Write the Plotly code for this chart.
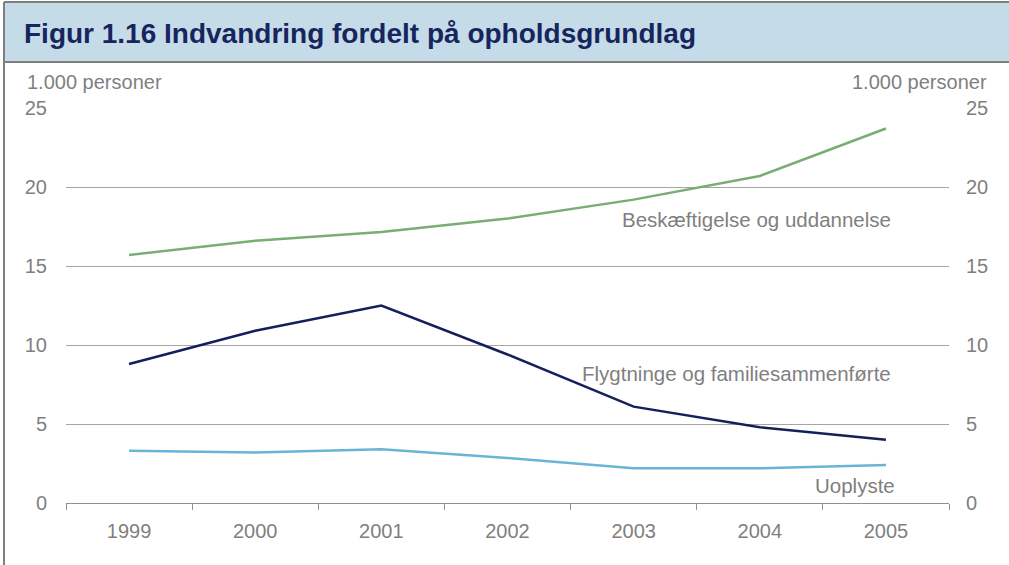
import plotly.graph_objects as go

years = ["1999", "2000", "2001", "2002", "2003", "2004", "2005"]
beskaeftigelse = [15.7, 16.6, 17.15, 18.0, 19.2, 20.7, 23.7]
flygtninge = [8.8, 10.9, 12.5, 9.4, 6.1, 4.8, 4.0]
uoplyste = [3.3, 3.2, 3.4, 2.85, 2.2, 2.2, 2.4]
yticks = [0, 5, 10, 15, 20, 25]

W, H = 1009, 565
L, R, T, B = 66, 949, 108, 503

def px(x):
    return (x - L) / (R - L)

def py(y):
    return (B - y) / (B - T)

gray = "#7f7f7f"
font = "Liberation Sans, Arial, sans-serif"
fs = 20
fa = 20.5

fig = go.Figure()
fig.add_trace(go.Scatter(x=years, y=beskaeftigelse, mode="lines",
                         line=dict(color="#79ae72", width=2.5), showlegend=False))
fig.add_trace(go.Scatter(x=years, y=flygtninge, mode="lines",
                         line=dict(color="#14205c", width=2.5), showlegend=False))
fig.add_trace(go.Scatter(x=years, y=uoplyste, mode="lines",
                         line=dict(color="#6ab4d6", width=2.5), showlegend=False))
# invisible trace for right axis
fig.add_trace(go.Scatter(x=years, y=uoplyste, yaxis="y2", mode="lines",
                         line=dict(width=0), opacity=0, showlegend=False, hoverinfo="skip"))

fig.update_layout(
    width=W, height=H,
    margin=dict(l=L, r=W - R, t=T, b=H - B, autoexpand=False),
    paper_bgcolor="white", plot_bgcolor="white",
    font=dict(family=font, color=gray, size=fs),
    xaxis=dict(type="category", range=[-0.5, 6.5], showgrid=False, ticks="outside",
               tickson="boundaries", ticklen=6, tickcolor="#909090", showline=True,
               linecolor="#909090", linewidth=1, ticklabelstandoff=10,
               tickfont=dict(size=fs, color=gray), zeroline=False, automargin=False),
    yaxis=dict(range=[0, 25], tickvals=yticks, showgrid=True, gridcolor="#a6a6a6",
               gridwidth=1, zeroline=False, showline=False, ticks="",
               ticklabelstandoff=18, tickfont=dict(size=fs, color=gray), automargin=False),
    yaxis2=dict(range=[0, 25], tickvals=yticks, overlaying="y", side="right",
                showgrid=False, zeroline=False, showline=False, ticks="",
                ticklabelstandoff=16, tickfont=dict(size=fs, color=gray), automargin=False),
    shapes=[
        dict(type="rect", xref="paper", yref="paper", x0=px(4), x1=px(1009), y0=py(62), y1=py(2),
             fillcolor="#c5dbe7", line=dict(width=0), layer="below"),
        dict(type="line", xref="paper", yref="paper", x0=px(4), x1=px(1009), y0=py(62), y1=py(62),
             line=dict(color="#7f7f7f", width=2)),
        dict(type="line", xref="paper", yref="paper", x0=px(4), x1=px(1009), y0=py(2), y1=py(2),
             line=dict(color="#7f7f7f", width=2)),
        dict(type="line", xref="paper", yref="paper", x0=px(4), x1=px(4), y0=py(565), y1=py(2),
             line=dict(color="#7f7f7f", width=2)),
    ],
    annotations=[
        dict(text="<b>Figur 1.16 Indvandring fordelt på opholdsgrundlag</b>", xref="paper", yref="paper",
             x=px(22), y=py(34), xanchor="left", yanchor="middle", showarrow=False,
             font=dict(size=28, color="#17255e", family=font)),
        dict(text="1.000 personer", xref="paper", yref="paper", x=px(25), y=py(82),
             xanchor="left", yanchor="middle", showarrow=False, font=dict(size=fs, color=gray)),
        dict(text="1.000 personer", xref="paper", yref="paper", x=px(989), y=py(82),
             xanchor="right", yanchor="middle", showarrow=False, font=dict(size=fs, color=gray)),
        dict(text="Beskæftigelse og uddannelse", xref="paper", yref="paper", x=px(893), y=py(219),
             xanchor="right", yanchor="middle", showarrow=False, font=dict(size=fa, color=gray)),
        dict(text="Flygtninge og familiesammenførte", xref="paper", yref="paper", x=px(893), y=py(373),
             xanchor="right", yanchor="middle", showarrow=False, font=dict(size=fa, color=gray)),
        dict(text="Uoplyste", xref="paper", yref="paper", x=px(897), y=py(485),
             xanchor="right", yanchor="middle", showarrow=False, font=dict(size=fa, color=gray)),
    ],
)

fig.write_html("out.html", config={"displayModeBar": False},
               post_script="document.body.style.margin='0';document.body.style.padding='0';")
